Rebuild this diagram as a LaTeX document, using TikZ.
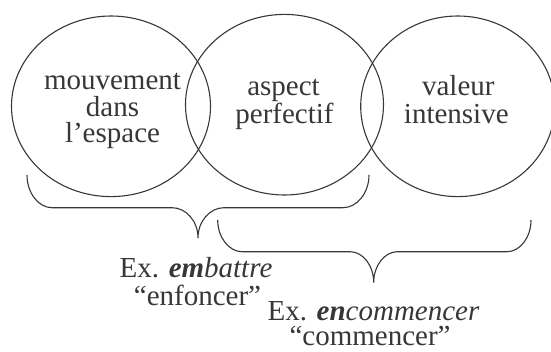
\documentclass[tikz,border=0pt]{standalone}
\usepackage{fontspec}
\setmainfont{Liberation Serif}
\definecolor{ink}{RGB}{55,55,55}
\begin{document}
\begin{tikzpicture}[x=1pt,y=-1pt,
  lbl/.style={anchor=base, inner sep=0pt, text=ink, font=\fontsize{29}{29}\selectfont},
  ring/.style={draw=ink, line width=1.1pt},
  bracepath/.style={draw=ink, line width=1.1pt}]
\useasboundingbox (0,0) rectangle (551,351);
% circles
\draw[ring] (111,106.3) ellipse [x radius=99.5pt, y radius=90.3pt];
\draw[ring] (284.5,104.7) ellipse [x radius=99pt, y radius=90.3pt];
\draw[ring] (457.7,106.3) ellipse [x radius=97pt, y radius=90.3pt];
% circle texts
\node[lbl] (m1) at (112.5,89.3) {mouvement};
\node[lbl] (m2) at (112.5,116) {dans};
\node[lbl] (m3) at (112.5,142.5) {l’espace};
\node[lbl] (a1) at (283.5,95) {aspect};
\node[lbl] (a2) at (284.5,123.3) {perfectif};
\node[lbl] (v1) at (458.3,95) {valeur};
\node[lbl] (v2) at (456.3,123.3) {intensive};
% braces
\draw[bracepath] (27,175) .. controls (27,193) and (38.5,207.7) .. (52,207.7)
  -- (172,207.7) .. controls (186,207.7) and (198,221) .. (198,238)
  .. controls (198,221) and (210,207.7) .. (224,207.7)
  -- (343,207.7) .. controls (357,207.7) and (369,193) .. (369,175);
\draw[bracepath] (217.7,220) .. controls (217.7,237.5) and (229,251.7) .. (242,251.7)
  -- (350,251.7) .. controls (363,251.7) and (373.7,265.5) .. (373.7,282.7)
  .. controls (373.7,265.5) and (384.5,251.7) .. (397.5,251.7)
  -- (507,251.7) .. controls (520,251.7) and (531,237.5) .. (531,220);
% examples
\node[lbl] (e1) at (196,277.3) {Ex. \textbf{\textit{em}}\textit{battre}};
\node[lbl] (e2) at (197.5,305) {“enfoncer”};
\node[lbl] (e3) at (373.5,320.5) {Ex. \textbf{\textit{en}}\textit{commencer}};
\node[lbl] (e4) at (370,345) {“commencer”};
\end{tikzpicture}
\end{document}
